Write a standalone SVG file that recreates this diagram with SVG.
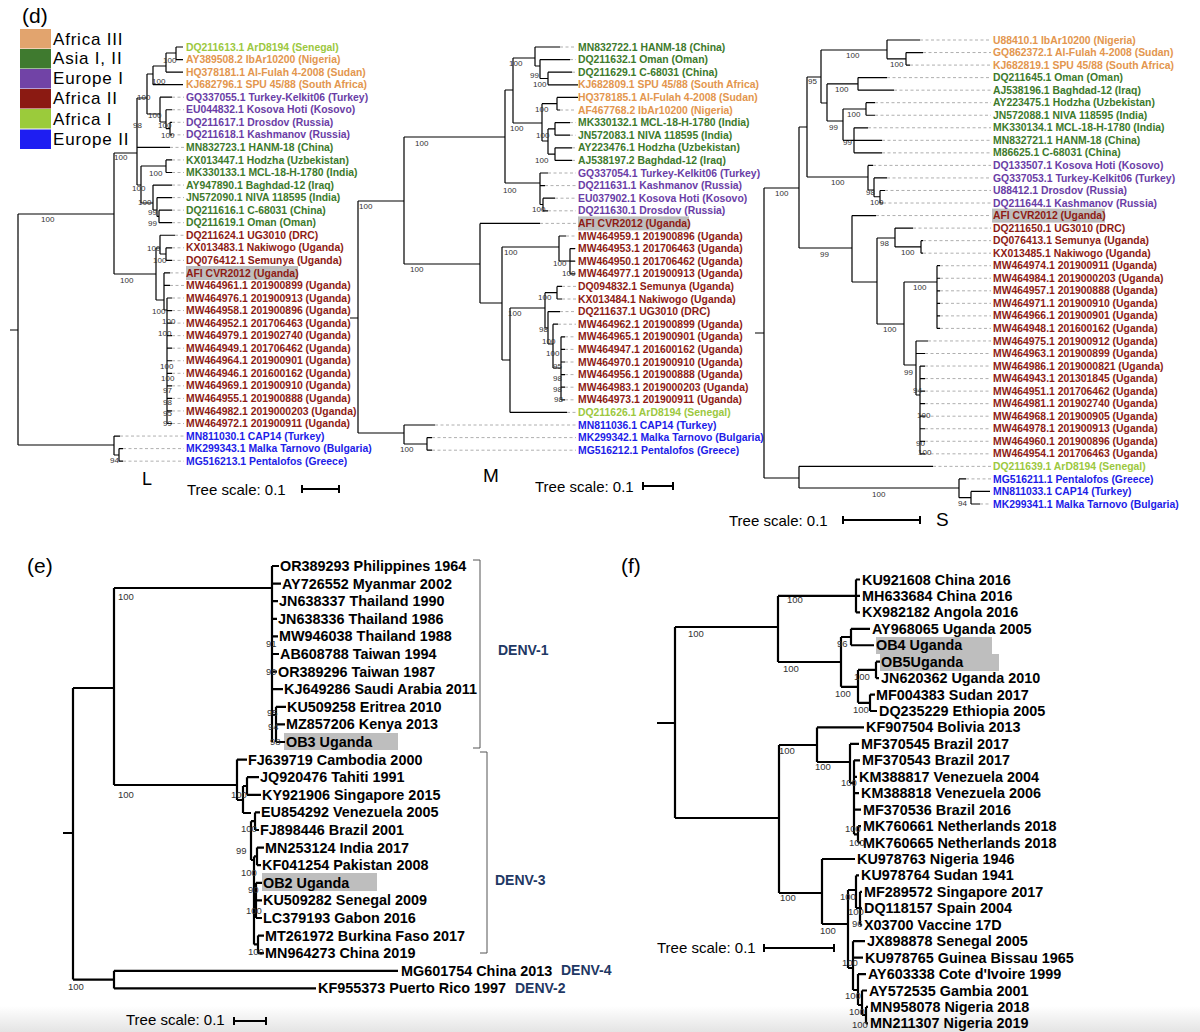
<svg xmlns="http://www.w3.org/2000/svg" width="1200" height="1032" viewBox="0 0 1200 1032">
<defs>
<linearGradient id="bot" x1="0" y1="0" x2="0" y2="1"><stop offset="0" stop-color="#ffffff"/><stop offset="1" stop-color="#e4e4e4"/></linearGradient>
</defs>
<style>
.br{fill:none;stroke:#000;stroke-width:1.2}
.brt{fill:none;stroke:#000;stroke-width:2.2}
.ds{fill:none;stroke:#9a9a9a;stroke-width:0.8;stroke-dasharray:3 2.5}
.lb{font-family:"Liberation Sans",Arial,sans-serif;font-size:10.4px;font-weight:bold}
.a3{fill:#E3964E}.as{fill:#3D7A2C}.e1{fill:#6A3DA6}.a2{fill:#8E1B14}.a1{fill:#9CC83E}.e2{fill:#1C1CE8}
.sp{font-family:"Liberation Sans",Arial,sans-serif;font-size:8px;fill:#333}
.spb{font-family:"Liberation Sans",Arial,sans-serif;font-size:9.5px;fill:#333}
.tl{font-family:"Liberation Sans",Arial,sans-serif;font-size:14.4px;font-weight:bold;fill:#000}
.ts{font-family:"Liberation Sans",Arial,sans-serif;font-size:15px;fill:#000}
.hl{fill:#BEBEBE}
.dv{font-family:"Liberation Sans",Arial,sans-serif;font-size:14px;font-weight:bold;fill:#1F3864}
.ttl{font-family:"Liberation Sans",Arial,sans-serif;font-size:21px;fill:#000}
.leg{font-family:"Liberation Sans",Arial,sans-serif;font-size:17px;letter-spacing:0.8px;fill:#000}
.sb{stroke:#000;stroke-width:2;fill:none}
.brk{fill:none;stroke:#555;stroke-width:1}
</style>
<rect width="1200" height="1032" fill="#fff"/>
<rect x="0" y="1006" width="1200" height="26" fill="url(#bot)"/>

<g id="legend-d">
<text class="ttl" x="22" y="23">(d)</text>
<rect x="20" y="29" width="31" height="19.5" fill="#E2A46E"/>
<rect x="20" y="49" width="31" height="19.5" fill="#3F7A2F"/>
<rect x="20" y="69" width="31" height="19.5" fill="#7143A6"/>
<rect x="20" y="89" width="31" height="19.5" fill="#8B1A12"/>
<rect x="20" y="109" width="31" height="19.5" fill="#9BCB3B"/>
<rect x="20" y="129.5" width="31" height="19.5" fill="#1E1EF2"/>
<text class="leg" x="53" y="45">Africa III</text>
<text class="leg" x="53" y="64">Asia I, II</text>
<text class="leg" x="53" y="84">Europe I</text>
<text class="leg" x="53" y="104">Africa II</text>
<text class="leg" x="53" y="124.5">Africa I</text>
<text class="leg" x="53" y="145">Europe II</text>
</g>

<g id="tree-L">
<rect class="hl" x="186" y="266" width="112" height="14"/>
<path class="ds" d="M172,97.2H184M172,109.75H184M172,122.3H184M172,134.85H184M170,147.4H184M172,159.95H184M172,172.5H184M172,185.05H184M172,197.6H184M172,210.15H184M172,222.7H184M175,235.25H184M172,247.8H184M172,260.35H184M170,272.9H184M170,285.45H184M172,298H184M172,310.55H184M172,323.1H184M172,335.65H184M172,348.2H184M172,360.75H184M172,373.3H184M172,385.85H184M172,398.4H184M172,410.95H184M172,423.5H184M120,436.05H184M123,448.6H184M123,461.15H184"/>
<path class="br" d="M10,330H18M18,214V445M18,214H114M18,445H114M114,153V274M114,153H137M114,274H156M137,98V185M137,98H147M147,74V114M147,74H153M153,66V84.65M153,66H166M166,53V72.1M166,53H176M176,47V59.55M176,47H183M176,59.55H183M166,72.1H183M153,84.65H183M147,114H160M160,97.2V122M160,97.2H172M160,122H166M166,109.75V128.6M166,109.75H172M166,128.6H170M170,122.3V134.85M170,122.3H172M170,134.85H172M137,147.4H170M137,185H141M141,166V203M141,166H166M166,159.95V172.5M166,159.95H172M166,172.5H172M141,203H153M153,185.05V210M153,185.05H172M153,210H157M157,197.6V216.4M157,197.6H172M157,216.4H159M159,210.15V222.7M159,210.15H172M159,222.7H172M156,248V300M156,248H160M160,235.25V254M160,235.25H175M160,254H166M166,247.8V260.35M166,247.8H172M166,260.35H172M156,300H164M164,272.9V310M164,272.9H170M164,285.45H170M164,310H167M167,298V423.5M167,298H172M167,310.55H172M167,323.1H172M167,335.65H172M167,348.2H172M167,360.75H172M167,373.3H172M167,385.85H172M167,398.4H172M167,410.95H172M167,423.5H172M114,436.05V455M114,436.05H120M114,455H119M119,448.6V461.15M119,448.6H123M119,461.15H123"/>
<g>
<text class="sp" x="152" y="84">100</text><text class="sp" x="163" y="63">100</text><text class="sp" x="137" y="100">100</text><text class="sp" x="148" y="118">100</text><text class="sp" x="133" y="128">98</text><text class="sp" x="158" y="128">100</text><text class="sp" x="161" y="138">100</text><text class="sp" x="114" y="160">100</text><text class="sp" x="149" y="176">100</text><text class="sp" x="132" y="191">100</text><text class="sp" x="138" y="205">100</text><text class="sp" x="148" y="215">99</text><text class="sp" x="148" y="226">99</text><text class="sp" x="41" y="222">100</text><text class="sp" x="147" y="251">100</text><text class="sp" x="153" y="263">100</text><text class="sp" x="120" y="283">100</text><text class="sp" x="152" y="314">100</text><text class="sp" x="162" y="324">100</text><text class="sp" x="158" y="336">100</text><text class="sp" x="160" y="369">100</text><text class="sp" x="161" y="381">100</text><text class="sp" x="163" y="393">97</text><text class="sp" x="163" y="405">98</text><text class="sp" x="163" y="416">95</text><text class="sp" x="163" y="426">99</text><text class="sp" x="110" y="463">94</text>
</g>
<g>
<text class="lb a1" x="186" y="50.6">DQ211613.1 ArD8194 (Senegal)</text>
<text class="lb a3" x="186" y="63.15">AY389508.2 IbAr10200 (Nigeria)</text>
<text class="lb a3" x="186" y="75.7">HQ378181.1 Al-Fulah 4-2008 (Sudan)</text>
<text class="lb a3" x="186" y="88.25">KJ682796.1 SPU 45/88 (South Africa)</text>
<text class="lb e1" x="186" y="100.8">GQ337055.1 Turkey-Kelkit06 (Turkey)</text>
<text class="lb e1" x="186" y="113.35">EU044832.1 Kosova Hoti (Kosovo)</text>
<text class="lb e1" x="186" y="125.9">DQ211617.1 Drosdov (Russia)</text>
<text class="lb e1" x="186" y="138.45">DQ211618.1 Kashmanov (Russia)</text>
<text class="lb as" x="186" y="151">MN832723.1 HANM-18 (China)</text>
<text class="lb as" x="186" y="163.55">KX013447.1 Hodzha (Uzbekistan)</text>
<text class="lb as" x="186" y="176.1">MK330133.1 MCL-18-H-1780 (India)</text>
<text class="lb as" x="186" y="188.65">AY947890.1 Baghdad-12 (Iraq)</text>
<text class="lb as" x="186" y="201.2">JN572090.1 NIVA 118595 (India)</text>
<text class="lb as" x="186" y="213.75">DQ211616.1 C-68031 (China)</text>
<text class="lb as" x="186" y="226.3">DQ211619.1 Oman (Oman)</text>
<text class="lb a2" x="186" y="238.85">DQ211624.1 UG3010 (DRC)</text>
<text class="lb a2" x="186" y="251.4">KX013483.1 Nakiwogo (Uganda)</text>
<text class="lb a2" x="186" y="263.95">DQ076412.1 Semunya (Uganda)</text>
<text class="lb a2" x="186" y="276.5">AFI CVR2012 (Uganda)</text>
<text class="lb a2" x="186" y="289.05">MW464961.1 201900899 (Uganda)</text>
<text class="lb a2" x="186" y="301.6">MW464976.1 201900913 (Uganda)</text>
<text class="lb a2" x="186" y="314.15">MW464958.1 201900896 (Uganda)</text>
<text class="lb a2" x="186" y="326.7">MW464952.1 201706463 (Uganda)</text>
<text class="lb a2" x="186" y="339.25">MW464979.1 201902740 (Uganda)</text>
<text class="lb a2" x="186" y="351.8">MW464949.1 201706462 (Uganda)</text>
<text class="lb a2" x="186" y="364.35">MW464964.1 201900901 (Uganda)</text>
<text class="lb a2" x="186" y="376.9">MW464946.1 201600162 (Uganda)</text>
<text class="lb a2" x="186" y="389.45">MW464969.1 201900910 (Uganda)</text>
<text class="lb a2" x="186" y="402">MW464955.1 201900888 (Uganda)</text>
<text class="lb a2" x="186" y="414.55">MW464982.1 2019000203 (Uganda)</text>
<text class="lb a2" x="186" y="427.1">MW464972.1 201900911 (Uganda)</text>
<text class="lb e2" x="186" y="439.65">MN811030.1 CAP14 (Turkey)</text>
<text class="lb e2" x="186" y="452.2">MK299343.1 Malka Tarnovo (Bulgaria)</text>
<text class="lb e2" x="186" y="464.75">MG516213.1 Pentalofos (Greece)</text>
</g>
<text class="ttl" x="142" y="485" style="font-size:18px">L</text>
<text class="ts" x="187" y="495">Tree scale: 0.1</text>
<path class="sb" d="M302,489H339M302,485V493M339,485V493"/>
</g>

<g id="tree-M">
<rect class="hl" x="578" y="216.4" width="111" height="14"/>
<path class="ds" d="M560,47H576M570,59.6H576M572,72.2H576M560,110H576M570,122.6H576M570,135.2H576M572,147.8H576M572,160.4H576M548,173H576M545,185.6H576M555,198.2H576M548,210.8H576M540,223.4H576M566,236H576M575,248.6H576M575,261.2H576M575,273.8H576M562,286.4H576M562,299H576M560,311.6H576M558,324.2H576M565,336.8H576M565,349.4H576M565,362H576M565,374.6H576M565,387.2H576M565,399.8H576M567,412.4H576M435,425H576M432,437.6H576M432,450.2H576"/>
<path class="br" d="M350,318H358M358,201V433M358,201H404M358,433H404M404,137V264M404,137H505M404,264H480M505,90V183M505,90H513M513,58V123M513,58H535M535,47V66M535,47H560M535,66H540M540,59.6V78.5M540,59.6H570M540,78.5H548M548,72.2V84.8M548,72.2H572M548,84.8H578M513,123H542M542,103.7V141M542,103.7H557M557,97.4V110M557,97.4H578M557,110H560M542,141H548M548,128.9V154.1M548,128.9H555M555,122.6V135.2M555,122.6H570M555,135.2H570M548,154.1H555M555,147.8V160.4M555,147.8H572M555,160.4H572M505,183H540M540,173V204.5M540,173H548M540,185.6H545M540,204.5H543M543,198.2V210.8M543,198.2H555M543,210.8H548M480,223.4V303M480,223.4H540M480,303H502M502,247V360M502,247H559M559,236V261M559,236H566M559,261H570M570,248.6V273.8M570,248.6H575M570,261.2H575M570,273.8H575M502,360H510M510,308V412.4M510,412.4H567M510,308H545M545,292.7V328M545,292.7H557M557,286.4V299M557,286.4H562M557,299H562M545,328H548M548,311.6V344M548,311.6H560M548,344H553M553,324.2V368M553,324.2H558M553,368H561M561,336.8V399.8M561,336.8H565M561,349.4H565M561,362H565M561,374.6H565M561,387.2H565M561,399.8H565M404,425V444M404,425H435M404,444H427M427,437.6V450.2M427,437.6H432M427,450.2H432"/>
<g>
<text class="sp" x="509" y="66">100</text><text class="sp" x="530" y="78">99</text><text class="sp" x="533" y="87">100</text><text class="sp" x="535" y="112">100</text><text class="sp" x="510" y="131">100</text><text class="sp" x="536" y="138">100</text><text class="sp" x="415" y="146">100</text><text class="sp" x="535" y="163">100</text><text class="sp" x="503" y="193">100</text><text class="sp" x="532" y="212">100</text><text class="sp" x="359" y="209">100</text><text class="sp" x="504" y="255">100</text><text class="sp" x="553" y="266">100</text><text class="sp" x="562" y="276">100</text><text class="sp" x="410" y="272">100</text><text class="sp" x="538" y="300">100</text><text class="sp" x="508" y="316">100</text><text class="sp" x="539" y="332">98</text><text class="sp" x="542" y="344">100</text><text class="sp" x="546" y="356">100</text><text class="sp" x="553" y="369">95</text><text class="sp" x="553" y="381">98</text><text class="sp" x="553" y="392">98</text><text class="sp" x="554" y="402">98</text><text class="sp" x="400" y="452">100</text>
</g>
<g>
<text class="lb as" x="578" y="50.6">MN832722.1 HANM-18 (China)</text>
<text class="lb as" x="578" y="63.2">DQ211632.1 Oman (Oman)</text>
<text class="lb as" x="578" y="75.8">DQ211629.1 C-68031 (China)</text>
<text class="lb a3" x="578" y="88.4">KJ682809.1 SPU 45/88 (South Africa)</text>
<text class="lb a3" x="578" y="101">HQ378185.1 Al-Fulah 4-2008 (Sudan)</text>
<text class="lb a3" x="578" y="113.6">AF467768.2 IbAr10200 (Nigeria)</text>
<text class="lb as" x="578" y="126.2">MK330132.1 MCL-18-H-1780 (India)</text>
<text class="lb as" x="578" y="138.8">JN572083.1 NIVA 118595 (India)</text>
<text class="lb as" x="578" y="151.4">AY223476.1 Hodzha (Uzbekistan)</text>
<text class="lb as" x="578" y="164">AJ538197.2 Baghdad-12 (Iraq)</text>
<text class="lb e1" x="578" y="176.6">GQ337054.1 Turkey-Kelkit06 (Turkey)</text>
<text class="lb e1" x="578" y="189.2">DQ211631.1 Kashmanov (Russia)</text>
<text class="lb e1" x="578" y="201.8">EU037902.1 Kosova Hoti (Kosovo)</text>
<text class="lb e1" x="578" y="214.4">DQ211630.1 Drosdov (Russia)</text>
<text class="lb a2" x="578" y="227">AFI CVR2012 (Uganda)</text>
<text class="lb a2" x="578" y="239.6">MW464959.1 201900896 (Uganda)</text>
<text class="lb a2" x="578" y="252.2">MW464953.1 201706463 (Uganda)</text>
<text class="lb a2" x="578" y="264.8">MW464950.1 201706462 (Uganda)</text>
<text class="lb a2" x="578" y="277.4">MW464977.1 201900913 (Uganda)</text>
<text class="lb a2" x="578" y="290">DQ094832.1 Semunya (Uganda)</text>
<text class="lb a2" x="578" y="302.6">KX013484.1 Nakiwogo (Uganda)</text>
<text class="lb a2" x="578" y="315.2">DQ211637.1 UG3010 (DRC)</text>
<text class="lb a2" x="578" y="327.8">MW464962.1 201900899 (Uganda)</text>
<text class="lb a2" x="578" y="340.4">MW464965.1 201900901 (Uganda)</text>
<text class="lb a2" x="578" y="353">MW464947.1 201600162 (Uganda)</text>
<text class="lb a2" x="578" y="365.6">MW464970.1 201900910 (Uganda)</text>
<text class="lb a2" x="578" y="378.2">MW464956.1 201900888 (Uganda)</text>
<text class="lb a2" x="578" y="390.8">MW464983.1 2019000203 (Uganda)</text>
<text class="lb a2" x="578" y="403.4">MW464973.1 201900911 (Uganda)</text>
<text class="lb a1" x="578" y="416">DQ211626.1 ArD8194 (Senegal)</text>
<text class="lb e2" x="578" y="428.6">MN811036.1 CAP14 (Turkey)</text>
<text class="lb e2" x="578" y="441.2">MK299342.1 Malka Tarnovo (Bulgaria)</text>
<text class="lb e2" x="578" y="453.8">MG516212.1 Pentalofos (Greece)</text>
</g>
<text class="ttl" x="483" y="482" style="font-size:19px">M</text>
<text class="ts" x="535" y="492">Tree scale: 0.1</text>
<path class="sb" d="M643,486H673M643,482V490M673,482V490"/>
</g>

<g id="tree-S">
<rect class="hl" x="992" y="208.6" width="113" height="14"/>
<path class="ds" d="M920,40H991M923,52.54H991M910,65.08H991M887,77.62H991M894,90.16H991M875,102.7H991M875,115.24H991M868,127.78H991M882,140.32H991M882,152.86H991M873,165.4H991M887,177.94H991M885,190.48H991M883,203.02H991M876,215.56H991M913,228.1H991M923,240.64H991M923,253.18H991M940,265.72H991M940,278.26H991M940,290.8H991M940,303.34H991M940,315.88H991M940,328.42H991M928,340.96H991M925,353.5H991M925,366.04H991M925,378.58H991M925,391.12H991M925,403.66H991M925,416.2H991M925,428.74H991M925,441.28H991M925,453.82H991M933,466.36H991M966,478.9H991M980,503.98H991"/>
<path class="br" d="M755,333H764M764,188V478M764,188H799M764,478H799M799,127V248M799,127H807M807,77V177M807,77H821M821,50V103M821,50H887M887,40V58.8M887,40H920M887,58.8H906M906,52.54V65.08M906,52.54H923M906,65.08H910M821,103H827M827,83.9V121M827,83.9H858M858,77.62V90.16M858,77.62H887M858,90.16H894M827,121H843M843,109V140.3M843,109H866M866,102.7V115.24M866,102.7H875M866,115.24H875M843,140.3H854M854,127.78V152.86M854,127.78H868M854,140.32H882M854,152.86H882M807,177H868M868,165.4V190M868,165.4H873M868,190H874M874,177.94V196.75M874,177.94H887M874,196.75H880M880,190.48V203.02M880,190.48H885M880,203.02H883M799,248H852M852,215.56V282M852,215.56H876M852,282H877M877,238V324M877,238H895M895,228.1V246.9M895,228.1H913M895,246.9H921M921,240.64V253.18M921,240.64H923M921,253.18H923M877,324H904M904,282V365M904,282H937M937,265.72V328.42M937,265.72H940M937,278.26H940M937,290.8H940M937,303.34H940M937,315.88H940M937,328.42H940M904,365H916M916,341V395M916,341H928M916,353.5H925M916,395H920M920,366.04V453.82M920,366.04H925M920,378.58H925M920,391.12H925M920,403.66H925M920,416.2H925M920,428.74H925M920,441.28H925M920,453.82H925M799,466.36V488M799,466.36H933M799,488H959M959,478.9V497.7M959,478.9H966M959,497.7H971M971,491.44V503.98M971,491.44H990M971,503.98H980"/>
<g>
<text class="sp" x="846" y="58">100</text><text class="sp" x="890" y="67">100</text><text class="sp" x="808" y="84">95</text><text class="sp" x="835" y="92">100</text><text class="sp" x="847" y="117">100</text><text class="sp" x="829" y="130">99</text><text class="sp" x="843" y="145">99</text><text class="sp" x="831" y="185">100</text><text class="sp" x="866" y="195">98</text><text class="sp" x="870" y="205">100</text><text class="sp" x="775" y="196">100</text><text class="sp" x="880" y="246">98</text><text class="sp" x="901" y="255">100</text><text class="sp" x="820" y="257">99</text><text class="sp" x="913" y="290">100</text><text class="sp" x="883" y="332">100</text><text class="sp" x="904" y="375">99</text><text class="sp" x="913" y="393">94</text><text class="sp" x="917" y="418">100</text><text class="sp" x="916" y="446">90</text><text class="sp" x="918" y="455">100</text><text class="sp" x="872" y="497">100</text><text class="sp" x="958" y="506">94</text>
</g>
<g>
<text class="lb a3" x="993" y="43.6">U88410.1 IbAr10200 (Nigeria)</text>
<text class="lb a3" x="993" y="56.14">GQ862372.1 Al-Fulah 4-2008 (Sudan)</text>
<text class="lb a3" x="993" y="68.68">KJ682819.1 SPU 45/88 (South Africa)</text>
<text class="lb as" x="993" y="81.22">DQ211645.1 Oman (Oman)</text>
<text class="lb as" x="993" y="93.76">AJ538196.1 Baghdad-12 (Iraq)</text>
<text class="lb as" x="993" y="106.3">AY223475.1 Hodzha (Uzbekistan)</text>
<text class="lb as" x="993" y="118.84">JN572088.1 NIVA 118595 (India)</text>
<text class="lb as" x="993" y="131.38">MK330134.1 MCL-18-H-1780 (India)</text>
<text class="lb as" x="993" y="143.92">MN832721.1 HANM-18 (China)</text>
<text class="lb as" x="993" y="156.46">M86625.1 C-68031 (China)</text>
<text class="lb e1" x="993" y="169">DQ133507.1 Kosova Hoti (Kosovo)</text>
<text class="lb e1" x="993" y="181.54">GQ337053.1 Turkey-Kelkit06 (Turkey)</text>
<text class="lb e1" x="993" y="194.08">U88412.1 Drosdov (Russia)</text>
<text class="lb e1" x="993" y="206.62">DQ211644.1 Kashmanov (Russia)</text>
<text class="lb a2" x="993" y="219.16">AFI CVR2012 (Uganda)</text>
<text class="lb a2" x="993" y="231.7">DQ211650.1 UG3010 (DRC)</text>
<text class="lb a2" x="993" y="244.24">DQ076413.1 Semunya (Uganda)</text>
<text class="lb a2" x="993" y="256.78">KX013485.1 Nakiwogo (Uganda)</text>
<text class="lb a2" x="993" y="269.32">MW464974.1 201900911 (Uganda)</text>
<text class="lb a2" x="993" y="281.86">MW464984.1 2019000203 (Uganda)</text>
<text class="lb a2" x="993" y="294.4">MW464957.1 201900888 (Uganda)</text>
<text class="lb a2" x="993" y="306.94">MW464971.1 201900910 (Uganda)</text>
<text class="lb a2" x="993" y="319.48">MW464966.1 201900901 (Uganda)</text>
<text class="lb a2" x="993" y="332.02">MW464948.1 201600162 (Uganda)</text>
<text class="lb a2" x="993" y="344.56">MW464975.1 201900912 (Uganda)</text>
<text class="lb a2" x="993" y="357.1">MW464963.1 201900899 (Uganda)</text>
<text class="lb a2" x="993" y="369.64">MW464986.1 2019000821 (Uganda)</text>
<text class="lb a2" x="993" y="382.18">MW464943.1 201301845 (Uganda)</text>
<text class="lb a2" x="993" y="394.72">MW464951.1 201706462 (Uganda)</text>
<text class="lb a2" x="993" y="407.26">MW464981.1 201902740 (Uganda)</text>
<text class="lb a2" x="993" y="419.8">MW464968.1 201900905 (Uganda)</text>
<text class="lb a2" x="993" y="432.34">MW464978.1 201900913 (Uganda)</text>
<text class="lb a2" x="993" y="444.88">MW464960.1 201900896 (Uganda)</text>
<text class="lb a2" x="993" y="457.42">MW464954.1 201706463 (Uganda)</text>
<text class="lb a1" x="993" y="469.96">DQ211639.1 ArD8194 (Senegal)</text>
<text class="lb e2" x="993" y="482.5">MG516211.1 Pentalofos (Greece)</text>
<text class="lb e2" x="993" y="495.04">MN811033.1 CAP14 (Turkey)</text>
<text class="lb e2" x="993" y="507.58">MK299341.1 Malka Tarnovo (Bulgaria)</text>
</g>
<text class="ts" x="729" y="526">Tree scale: 0.1</text>
<path class="sb" d="M843,520H920M843,516V524M920,516V524"/>
<text class="ttl" x="936" y="526" style="font-size:19px">S</text>
</g>

<g id="tree-e">
<text class="ttl" x="27" y="573">(e)</text>
<rect class="hl" x="284" y="733" width="114" height="17"/>
<rect class="hl" x="262" y="873" width="115" height="18"/>
<path class="brt" d="M63,833H73M73,688V979.6M73,688H114M73,979.6H114M114,588V785M114,588H272M114,785H237M272,566V742M272,566H279M272,583.6H281M272,601.2H278M272,618.8H277M272,636.4H278M272,654H279M272,671.6H277M272,689.2H283M276,706.8V742M272,715H276M276,706.8H286M276,724.4H285M276,742H285M237,759.6V800M237,759.6H247M237,800H243M243,786V813M243,786H247M247,777.2V794.8M247,777.2H259M247,794.8H261M243,813H251M251,821.2V860M251,821.2H255M255,812.4V830M255,812.4H260M255,830H259M251,860H254M254,856.4V944.4M254,856.4H257M257,847.6V865.2M257,847.6H264M257,865.2H261M254,900.4H256M256,882.8V918M256,882.8H262M256,900.4H262M256,918H262M254,944.4H258M258,935.6V953.2M258,935.6H264M258,953.2H264M114,970.8V988.4M114,970.8H398M114,988.4H316"/>
<g>
<text class="spb" x="118" y="600">100</text><text class="spb" x="118" y="798">100</text><text class="spb" x="266" y="647">91</text><text class="spb" x="266" y="675">99</text><text class="spb" x="267" y="716">95</text><text class="spb" x="268" y="730">94</text><text class="spb" x="270" y="745">98</text><text class="spb" x="231" y="798">100</text><text class="spb" x="241" y="832">100</text><text class="spb" x="236" y="854">99</text><text class="spb" x="241" y="876">100</text><text class="spb" x="248" y="893">90</text><text class="spb" x="246" y="914">100</text><text class="spb" x="248" y="955">100</text><text class="spb" x="68" y="990">100</text>
</g>
<g>
<text class="tl" x="280" y="571">OR389293 Philippines 1964</text>
<text class="tl" x="282" y="588.6">AY726552 Myanmar 2002</text>
<text class="tl" x="279" y="606.2">JN638337 Thailand 1990</text>
<text class="tl" x="278" y="623.8">JN638336 Thailand 1986</text>
<text class="tl" x="279" y="641.4">MW946038 Thailand 1988</text>
<text class="tl" x="280" y="659">AB608788 Taiwan 1994</text>
<text class="tl" x="278" y="676.6">OR389296 Taiwan 1987</text>
<text class="tl" x="284" y="694.2">KJ649286 Saudi Arabia 2011</text>
<text class="tl" x="287" y="711.8">KU509258 Eritrea 2010</text>
<text class="tl" x="286" y="729.4">MZ857206 Kenya 2013</text>
<text class="tl" x="286" y="747">OB3 Uganda</text>
<text class="tl" x="248" y="764.6">FJ639719 Cambodia 2000</text>
<text class="tl" x="260" y="782.2">JQ920476 Tahiti 1991</text>
<text class="tl" x="262" y="799.8">KY921906 Singapore 2015</text>
<text class="tl" x="261" y="817.4">EU854292 Venezuela 2005</text>
<text class="tl" x="260" y="835">FJ898446 Brazil 2001</text>
<text class="tl" x="265" y="852.6">MN253124 India 2017</text>
<text class="tl" x="262" y="870.2">KF041254 Pakistan 2008</text>
<text class="tl" x="263" y="887.8">OB2 Uganda</text>
<text class="tl" x="263" y="905.4">KU509282 Senegal 2009</text>
<text class="tl" x="263" y="923">LC379193 Gabon 2016</text>
<text class="tl" x="265" y="940.6">MT261972 Burkina Faso 2017</text>
<text class="tl" x="265" y="958.2">MN964273 China 2019</text>
<text class="tl" x="401" y="975.8">MG601754 China 2013</text>
<text class="tl" x="318" y="993.4">KF955373 Puerto Rico 1997</text>
</g>
<path class="brk" d="M473,560H480V748H473M480,752H487V953H480"/>
<text class="dv" x="498" y="655">DENV-1</text>
<text class="dv" x="495" y="885">DENV-3</text>
<text class="dv" x="561" y="975">DENV-4</text>
<text class="dv" x="515" y="993">DENV-2</text>
<text class="ts" x="126" y="1025">Tree scale: 0.1</text>
<path class="sb" d="M234,1021H266M234,1017V1025M266,1017V1025"/>
</g>

<g id="tree-f">
<text class="ttl" x="621" y="573">(f)</text>
<rect class="hl" x="876" y="637" width="116" height="17"/>
<rect class="hl" x="880" y="654" width="119" height="17"/>
<path class="brt" d="M657,723H675M675,627V818M675,627H778M675,818H779M778,595.94V662M778,595.94H856M856,579.5V612.38M856,579.5H860M856,595.94H860M856,612.38H860M778,662H841M841,637V686.8M841,637H851M851,628.82V645.26M851,628.82H870M851,645.26H874M841,686.8H858M858,669.9V702.8M858,669.9H876M876,661.7V678.14M876,661.7H880M876,678.14H879M858,702.8H870M870,694.58V711.02M870,694.58H875M870,711.02H877M779,745V893M779,745H817M817,727.46V762M817,727.46H864M817,762H850M850,743.9V783M850,743.9H859M850,783H854M854,760.34V834.3M854,760.34H860M854,776.78H857M854,793.22H859M854,809.66H861M854,834.3H858M858,826.1V842.54M858,826.1H861M858,842.54H861M779,893H822M822,858.98V924M822,858.98H855M822,924H848M848,890V968M848,890H856M856,875.42V908M856,875.42H859M856,908H860M860,891.86V924.74M860,891.86H862M860,908.3H862M860,924.74H862M848,968H853M853,941.18V990M853,941.18H865M853,957.62H863M853,990H858M858,974.06V1005M858,974.06H866M858,1005H862M862,990.5V1015M862,990.5H867M862,1015H866M866,1006.94V1023.38M866,1006.94H868M866,1023.38H868"/>
<g>
<text class="spb" x="688" y="637">100</text><text class="spb" x="787" y="603">100</text><text class="spb" x="783" y="672">100</text><text class="spb" x="837" y="647">96</text><text class="spb" x="854" y="680">100</text><text class="spb" x="835" y="697">100</text><text class="spb" x="853" y="713">100</text><text class="spb" x="779" y="754">100</text><text class="spb" x="815" y="770">100</text><text class="spb" x="841" y="786">100</text><text class="spb" x="845" y="832">100</text><text class="spb" x="849" y="846">100</text><text class="spb" x="780" y="901">100</text><text class="spb" x="840" y="900">100</text><text class="spb" x="848" y="915">100</text><text class="spb" x="852" y="927">96</text><text class="spb" x="820" y="934">100</text><text class="spb" x="842" y="966">100</text><text class="spb" x="845" y="999">100</text><text class="spb" x="849" y="1015">100</text><text class="spb" x="852" y="1028">100</text>
</g>
<g>
<text class="tl" x="862" y="584.5">KU921608 China 2016</text>
<text class="tl" x="862" y="600.94">MH633684 China 2016</text>
<text class="tl" x="862" y="617.38">KX982182 Angola 2016</text>
<text class="tl" x="872" y="633.82">AY968065 Uganda 2005</text>
<text class="tl" x="876" y="650.26">OB4 Uganda</text>
<text class="tl" x="881" y="666.7">OB5Uganda</text>
<text class="tl" x="881" y="683.14">JN620362 Uganda 2010</text>
<text class="tl" x="876" y="699.58">MF004383 Sudan 2017</text>
<text class="tl" x="879" y="716.02">DQ235229 Ethiopia 2005</text>
<text class="tl" x="866" y="732.46">KF907504 Bolivia 2013</text>
<text class="tl" x="861" y="748.9">MF370545 Brazil 2017</text>
<text class="tl" x="862" y="765.34">MF370543 Brazil 2017</text>
<text class="tl" x="859" y="781.78">KM388817 Venezuela 2004</text>
<text class="tl" x="861" y="798.22">KM388818 Venezuela 2006</text>
<text class="tl" x="863" y="814.66">MF370536 Brazil 2016</text>
<text class="tl" x="863" y="831.1">MK760661 Netherlands 2018</text>
<text class="tl" x="863" y="847.54">MK760665 Netherlands 2018</text>
<text class="tl" x="857" y="863.98">KU978763 Nigeria 1946</text>
<text class="tl" x="861" y="880.42">KU978764 Sudan 1941</text>
<text class="tl" x="864" y="896.86">MF289572 Singapore 2017</text>
<text class="tl" x="864" y="913.3">DQ118157 Spain 2004</text>
<text class="tl" x="864" y="929.74">X03700 Vaccine 17D</text>
<text class="tl" x="867" y="946.18">JX898878 Senegal 2005</text>
<text class="tl" x="865" y="962.62">KU978765 Guinea Bissau 1965</text>
<text class="tl" x="868" y="979.06">AY603338 Cote d'Ivoire 1999</text>
<text class="tl" x="869" y="995.5">AY572535 Gambia 2001</text>
<text class="tl" x="870" y="1011.94">MN958078 Nigeria 2018</text>
<text class="tl" x="870" y="1028.38">MN211307 Nigeria 2019</text>
</g>
<text class="ts" x="657" y="953">Tree scale: 0.1</text>
<path class="sb" d="M764,948H834M764,944V952M834,944V952"/>
</g>
</svg>
